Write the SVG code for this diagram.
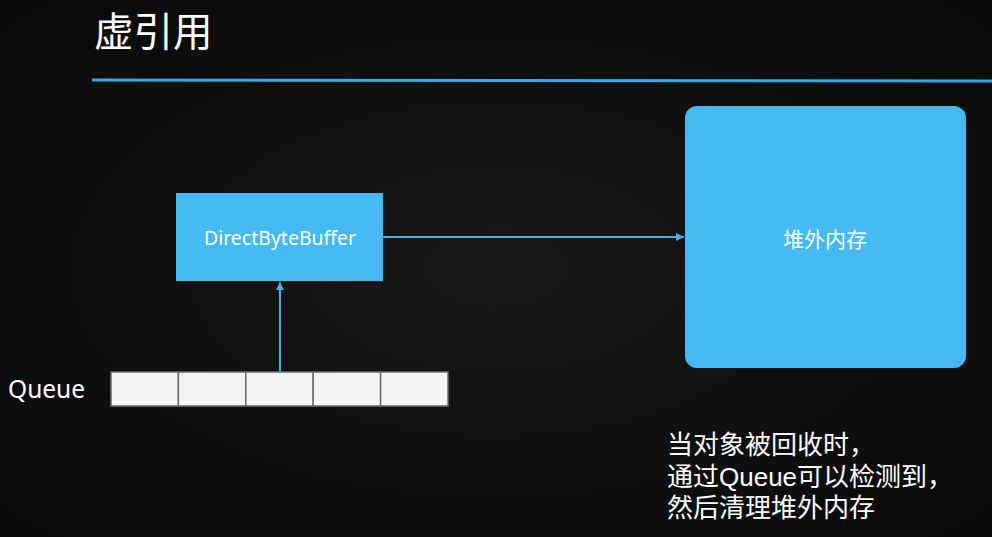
<svg xmlns="http://www.w3.org/2000/svg" width="992" height="537" viewBox="0 0 992 537">
  <defs>
    <style>
      .box { fill: #45b9f1; }
      .cell { fill: #f4f5f3; stroke: #6b6b6b; stroke-width: 1.5; }
      .conn { stroke: #45b3e6; stroke-width: 2; fill: none; }
      .wtxt { fill: #ffffff; font-family: "Noto Sans", "Noto Sans CJK SC", sans-serif; }
      .cjk { fill: #ffffff; font-family: "Noto Sans CJK SC", sans-serif; }
      .note { fill: #ffffff; font-family: "Liberation Sans", "Noto Sans CJK SC", sans-serif; font-size: 26px; }
    </style>
    <marker id="arrow" viewBox="0 0 8 8" refX="8" refY="4" markerWidth="4" markerHeight="4" orient="auto">
      <path d="M0,0 L8,4 L0,8 Z" fill="#45b3e6"/>
    </marker>
    <radialGradient id="bg" cx="50%" cy="50%" r="70%">
      <stop offset="0" stop-color="#181818"/>
      <stop offset="1" stop-color="#0a0a0a"/>
    </radialGradient>
  </defs>
  <rect width="992" height="537" fill="url(#bg)"/>

  <text class="cjk" x="94" y="46" font-size="39.5">虚引用</text>
  <line x1="92" y1="80" x2="992" y2="81" stroke="#3aa9e2" stroke-width="3"/>

  <g id="connectors">
    <line class="conn" x1="383" y1="237" x2="684" y2="237" marker-end="url(#arrow)"/>
    <line class="conn" x1="280" y1="372" x2="280" y2="282" marker-end="url(#arrow)"/>
  </g>

  <g id="directbytebuffer">
    <rect class="box" x="176" y="193" width="207" height="88"/>
    <text class="wtxt" x="280" y="245" font-size="19.5" text-anchor="middle">DirectByteBuffer</text>
  </g>

  <g id="offheap">
    <rect class="box" x="685" y="106" width="281" height="262" rx="12"/>
    <text class="cjk" x="825" y="247" font-size="21" text-anchor="middle">堆外内存</text>
  </g>

  <g id="queue">
    <text class="wtxt" x="8" y="398" font-size="24.5">Queue</text>
    <rect class="cell" x="111" y="372" width="67.4" height="34"/>
    <rect class="cell" x="178.4" y="372" width="67.4" height="34"/>
    <rect class="cell" x="245.8" y="372" width="67.4" height="34"/>
    <rect class="cell" x="313.2" y="372" width="67.4" height="34"/>
    <rect class="cell" x="380.6" y="372" width="67.4" height="34"/>
  </g>

  <g id="note">
    <text class="note" x="667" y="454">当对象被回收时，</text>
    <text class="note" x="667" y="486">通过Queue可以检测到，</text>
    <text class="note" x="667" y="517">然后清理堆外内存</text>
  </g>
</svg>
